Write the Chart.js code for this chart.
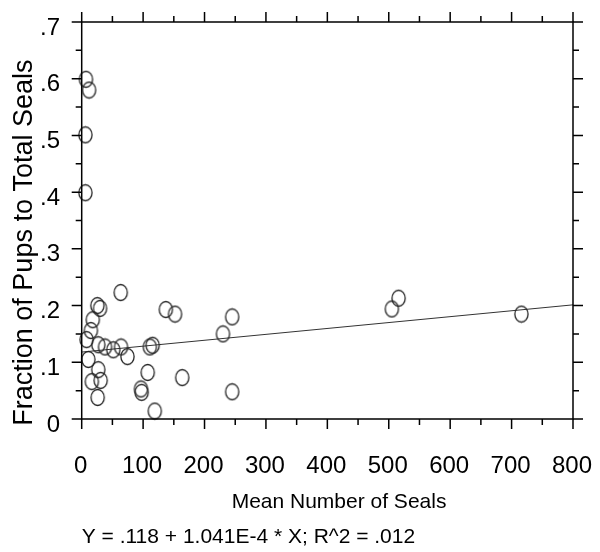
<!DOCTYPE html>
<html>
<head>
<meta charset="utf-8">
<style>
  html, body { margin: 0; padding: 0; background: #fff; }
  #wrap { width: 600px; height: 552px; position: relative; }
</style>
<script src="https://cdn.jsdelivr.net/npm/chart.js@4.4.1/dist/chart.umd.min.js"></script>
</head>
<body>
<div id="wrap"><canvas id="c" width="600" height="552"></canvas></div>
<script>
// ---- data ----
const seals = [7, 12, 6, 6, 63.5, 25.5, 29.8, 18, 15, 8, 27, 38, 51.4, 64, 74.5, 111, 115.5, 137, 152,
               10.8, 27, 16.5, 30.9, 26, 107.5, 96.5, 97.6, 119, 163.7, 230, 245, 245, 505, 516, 716];
const pupFraction = [0.599, 0.580, 0.501, 0.399, 0.223, 0.200, 0.195, 0.175, 0.156, 0.140, 0.131, 0.127, 0.122, 0.127, 0.110, 0.127, 0.130, 0.193, 0.185,
               0.105, 0.087, 0.066, 0.068, 0.038, 0.082, 0.053, 0.047, 0.014, 0.073, 0.150, 0.180, 0.048, 0.194, 0.213, 0.185];
const xTickLabels = ['0', '100', '200', '300', '400', '500', '600', '700', '800'];
const yTickLabels = ['0', '.1', '.2', '.3', '.4', '.5', '.6', '.7'];
const fitIntercept = 0.118;
const fitSlope = 1.041e-4;
const fitRange = [0, 800];
const xTitle = '\u00a0\u00a0\u00a0\u00a0Mean Number of Seals';
const yTitle = 'Fraction of Pups to Total Seals\u00a0\u00a0\u00a0\u00a0\u00a0';
const equationText = 'Y = .118 + 1.041E-4 * X; R^2 = .012';

const FONT = '"Liberation Sans", Arial, sans-serif';

// ellipse point marker
function makeMarker() {
  const cv = document.createElement('canvas');
  cv.width = 17; cv.height = 19;
  const g = cv.getContext('2d');
  g.strokeStyle = '#262626';
  g.lineWidth = 1.3;
  g.beginPath();
  g.ellipse(8.5, 9.5, 6.6, 8.0, 0, 0, Math.PI * 2);
  g.stroke();
  return cv;
}
const marker = makeMarker();

const points = seals.map((x, i) => ({ x: x, y: pupFraction[i] }));
const fitLine = fitRange.map(x => ({ x: x, y: fitIntercept + fitSlope * x }));

const frame = {
  id: 'frame',
  afterDraw(chart) {
    const { ctx, chartArea: ca, scales: { x, y } } = chart;
    const MAJ = 10, MIN = 6;
    ctx.save();
    ctx.strokeStyle = '#000';
    ctx.lineWidth = 1.5;
    ctx.beginPath();
    ctx.rect(ca.left, ca.top, ca.right - ca.left, ca.bottom - ca.top);
    ctx.stroke();
    ctx.beginPath();
    const xt = x.ticks.map(t => t.value);
    xt.forEach((v, i) => {
      const p = x.getPixelForValue(v);
      ctx.moveTo(p, ca.bottom); ctx.lineTo(p, ca.bottom + MAJ);
      ctx.moveTo(p, ca.top); ctx.lineTo(p, ca.top - MAJ);
      if (i < xt.length - 1) {
        const m = x.getPixelForValue((v + xt[i + 1]) / 2);
        ctx.moveTo(m, ca.bottom); ctx.lineTo(m, ca.bottom + MIN);
        ctx.moveTo(m, ca.top); ctx.lineTo(m, ca.top - MIN);
      }
    });
    const yt = y.ticks.map(t => t.value);
    yt.forEach((v, i) => {
      const p = y.getPixelForValue(v);
      ctx.moveTo(ca.left, p); ctx.lineTo(ca.left - MAJ, p);
      ctx.moveTo(ca.right, p); ctx.lineTo(ca.right + MAJ, p);
      if (i < yt.length - 1) {
        const m = y.getPixelForValue((v + yt[i + 1]) / 2);
        ctx.moveTo(ca.left, m); ctx.lineTo(ca.left - MIN, m);
        ctx.moveTo(ca.right, m); ctx.lineTo(ca.right + MIN, m);
      }
    });
    ctx.stroke();
    ctx.restore();
  }
};

new Chart(document.getElementById('c'), {
  type: 'scatter',
  data: {
    datasets: [
      {
        label: 'obs',
        data: points,
        pointStyle: marker,
        pointRadius: 8,
        pointHoverRadius: 8,
        clip: false
      },
      {
        label: 'fit',
        type: 'line',
        data: fitLine,
        borderColor: '#333',
        borderWidth: 1,
        pointRadius: 0,
        fill: false,
        clip: false
      }
    ]
  },
  options: {
    responsive: false,
    animation: false,
    events: [],
    layout: { padding: { left: 4, right: 27, top: 22, bottom: 0 } },
    plugins: {
      legend: { display: false },
      tooltip: { enabled: false },
      title: {
        display: true,
        text: equationText,
        position: 'bottom',
        align: 'start',
        fullSize: false,
        color: '#000',
        font: { family: FONT, size: 21, weight: 'normal', lineHeight: 1.2 },
        padding: { top: 0, bottom: 2.4 }
      }
    },
    scales: {
      x: {
        type: 'linear',
        min: 0, max: 800,
        grid: { display: false, drawTicks: false },
        border: { display: false },
        afterFit: (s) => { s.height = 105.4; s.paddingLeft = 0; s.paddingRight = 0; },
        ticks: {
          stepSize: 100,
          color: '#000',
          padding: 33,
          maxRotation: 0,
          autoSkip: false,
          labelOffset: -1,
          font: { family: FONT, size: 24, lineHeight: 1.2 },
          callback: (v, i) => xTickLabels[i]
        },
        title: {
          display: true,
          text: xTitle,
          color: '#000',
          font: { family: FONT, size: 21, lineHeight: 1.2 },
          padding: { top: 9, bottom: 9.3 }
        }
      },
      y: {
        type: 'linear',
        min: 0, max: 0.7,
        grid: { display: false, drawTicks: false },
        border: { display: false },
        afterFit: (s) => { s.width = 77.7; s.paddingTop = 0; s.paddingBottom = 0; },
        ticks: {
          stepSize: 0.1,
          color: '#000',
          padding: 21.7,
          autoSkip: false,
          labelOffset: 6,
          font: { family: FONT, size: 24, lineHeight: 1.2 },
          callback: (v, i) => yTickLabels[i]
        },
        title: {
          display: true,
          text: yTitle,
          align: 'end',
          color: '#000',
          font: { family: FONT, size: 27, lineHeight: 1.2 },
          padding: { top: 4.8, bottom: 3 }
        }
      }
    }
  },
  plugins: [frame]
});
</script>
</body>
</html>
